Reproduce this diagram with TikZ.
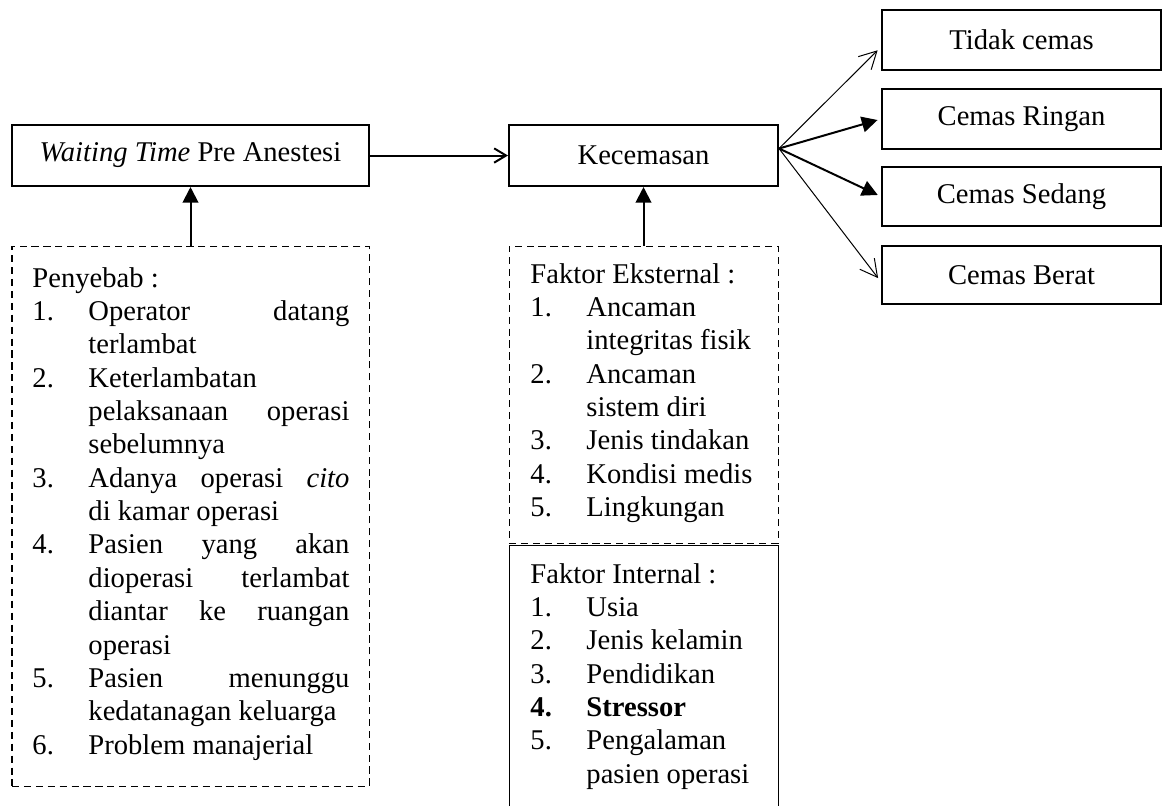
\documentclass[tikz,border=0pt]{standalone}
\usepackage{fontspec}
\setmainfont{Liberation Serif}
\usetikzlibrary{arrows.meta,calc}
\def\u{0.4196pt}
\newcommand\li[2]{\par\hangindent=23.5pt\hangafter=1\noindent\makebox[23.5pt][l]{#1}#2}
\tikzset{
  txtfont/.style={font=\fontsize{12}{14}\selectfont},
  box/.style={draw, line width=0.84pt, inner sep=0pt, txtfont},
  dbox/.style={draw, dashed, dash pattern=on 3pt off 2pt, line width=0.42pt, inner sep=0pt},
  listtxt/.style={inner sep=0pt, anchor=base west, txtfont, align=justify,
    execute at begin node={\leftskip=0pt\rightskip=0pt\parfillskip=0pt plus 1fil\tolerance=10000\hbadness=10000}},
  thk/.style={line width=0.84pt},
  thn/.style={line width=0.42pt},
  openhead/.style={-{Straight Barb[length=5pt,width=6pt]}},
  fanopen/.style={-{Straight Barb[length=7.2pt,width=7.7pt]}},
  filled/.style={-{Triangle[length=6.6pt,width=6.6pt]}}
}
\begin{document}
\begin{tikzpicture}[x=0.4196pt,y=-0.4196pt]
\useasboundingbox (0,0) rectangle (1165,806);
% main boxes
\node[box, minimum width={357*\u}, minimum height={61*\u}] (wt) at (190.5,155.5) {\textit{Waiting Time} Pre Anestesi};
\node[box, minimum width={269*\u}, minimum height={61*\u}] (kec) at (643.5,155.5) {Kecemasan};
% outcome boxes
\node[box, minimum width={279*\u}, minimum height={60*\u}] (tidak) at (1021.5,40) {Tidak cemas};
\node[box, minimum width={279*\u}, minimum height={60*\u}] (ringan) at (1021.5,119) {Cemas Ringan};
\node[box, minimum width={279*\u}, minimum height={59*\u}] (sedang) at (1021.5,196.5) {Cemas Sedang};
\node[box, minimum width={279*\u}, minimum height={58*\u}] (berat) at (1021.5,275) {Cemas Berat};
% dashed boxes
\node[dbox, minimum width={357*\u}, minimum height={540*\u}] (pen) at (190.5,516) {};
\node[dbox, minimum width={269*\u}, minimum height={297*\u}] (ext) at (643.5,394.5) {};
% internal box (open at the bottom)
\draw[thn] (509,806) -- (509,545) -- (778,545) -- (778,806);
% texts
\node[listtxt, text width={317*\u}] (pentxt) at (32,287) {%
Penyebab :
\li{1.}{Operator datang\linebreak terlambat}
\li{2.}{Keterlambatan\newline pelaksanaan operasi\linebreak sebelumnya}
\li{3.}{Adanya operasi \textit{cito}\linebreak di kamar operasi}
\li{4.}{Pasien yang akan\linebreak dioperasi terlambat\linebreak diantar ke ruangan\linebreak operasi}
\li{5.}{Pasien menunggu\linebreak kedatanagan keluarga}
\li{6.}{Problem manajerial}\par};
\node[listtxt, text width={240*\u}] (exttxt) at (530,283) {%
Faktor Eksternal :
\li{1.}{Ancaman\newline integritas fisik}
\li{2.}{Ancaman\newline sistem diri}
\li{3.}{Jenis tindakan}
\li{4.}{Kondisi medis}
\li{5.}{Lingkungan}\par};
\node[listtxt, text width={240*\u}] (inttxt) at (530,583) {%
Faktor Internal :
\li{1.}{Usia}
\li{2.}{Jenis kelamin}
\li{3.}{Pendidikan}
\li{\textbf{4.}}{\textbf{Stressor}}
\li{5.}{Pengalaman\newline pasien operasi}\par};
% connectors
\draw[thk, openhead] (wt.east) -- (kec.west);
\draw[thk, filled] (pen.north) -- (wt.south);
\draw[thk, filled] (ext.north) -- (kec.south);
\coordinate (fan) at ($(kec.east)+(0,-7)$);
\draw[thn, fanopen, shorten >=2pt] (fan) -- ([yshift=-2.9pt]tidak.west);
\draw[thk, filled, shorten >=1.5pt] (fan) -- (ringan.west);
\draw[thk, filled, shorten >=1.5pt] (fan) -- (sedang.west);
\draw[thn, fanopen, shorten >=2pt] (fan) -- ([yshift=-2.9pt]berat.west);
\end{tikzpicture}
\end{document}
